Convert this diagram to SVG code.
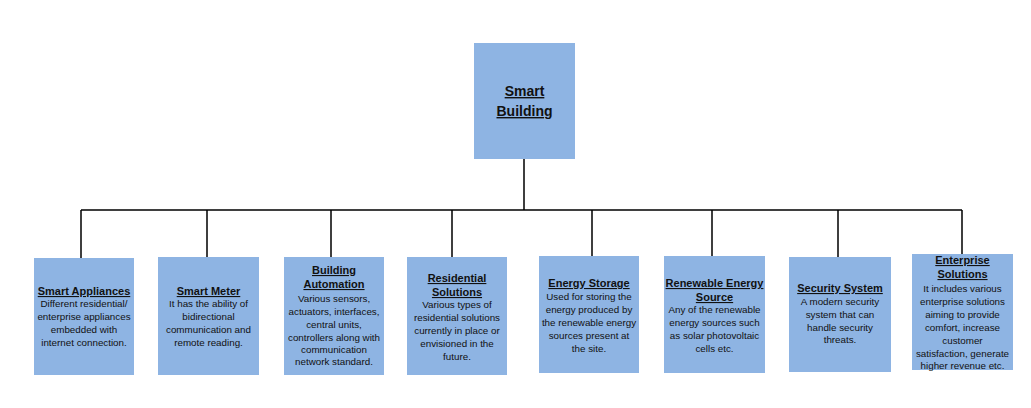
<svg xmlns="http://www.w3.org/2000/svg" width="1031" height="408" viewBox="0 0 1031 408">
<style>
.box{fill:#8EB4E3;stroke:none}
.ln{stroke:#000;stroke-width:1.5;fill:none}
text{font-family:"Liberation Sans",Arial,sans-serif;fill:#111;text-anchor:middle}
.h{font-size:11px;font-weight:bold;text-decoration:underline}
.t{font-size:9.8px}
.top{font-size:14px;font-weight:bold;text-decoration:underline}
</style>
<rect width="1031" height="408" fill="#fff"/>
<g id="connectors">
<path class="ln" d="M524,159V210M81,210H962M81,210V258M207,210V257M331,210V257M452,210V257M592,210V256M712,210V256M838,210V257M962,210V254"/>
</g>
<g id="smart-building">
<rect class="box" x="474" y="43" width="101" height="116"/>
<text class="top" x="524.5" y="96">Smart</text>
<text class="top" x="524.5" y="116">Building</text>
</g>
<g id="smart-appliances">
<rect class="box" x="34" y="258" width="100" height="117"/>
<text class="h" x="84" y="295">Smart Appliances</text>
<text class="t" x="84" y="307">Different residential/</text>
<text class="t" x="84" y="320">enterprise appliances</text>
<text class="t" x="84" y="333">embedded with</text>
<text class="t" x="84" y="346">internet connection.</text>
</g>
<g id="smart-meter">
<rect class="box" x="158" y="257" width="101" height="118"/>
<text class="h" x="208.5" y="295">Smart Meter</text>
<text class="t" x="208.5" y="307">It has the ability of</text>
<text class="t" x="208.5" y="320">bidirectional</text>
<text class="t" x="208.5" y="333">communication and</text>
<text class="t" x="208.5" y="346">remote reading.</text>
</g>
<g id="building-automation">
<rect class="box" x="284" y="257" width="100" height="118"/>
<text class="h" x="334" y="274">Building</text>
<text class="h" x="334" y="288">Automation</text>
<text class="t" x="334" y="302">Various sensors,</text>
<text class="t" x="334" y="315">actuators, interfaces,</text>
<text class="t" x="334" y="328">central units,</text>
<text class="t" x="334" y="341">controllers along with</text>
<text class="t" x="334" y="353">communication</text>
<text class="t" x="334" y="365">network standard.</text>
</g>
<g id="residential-solutions">
<rect class="box" x="407" y="257" width="100" height="118"/>
<text class="h" x="457" y="282">Residential</text>
<text class="h" x="457" y="296">Solutions</text>
<text class="t" x="457" y="308">Various types of</text>
<text class="t" x="457" y="321">residential solutions</text>
<text class="t" x="457" y="334">currently in place or</text>
<text class="t" x="457" y="347">envisioned in the</text>
<text class="t" x="457" y="360">future.</text>
</g>
<g id="energy-storage">
<rect class="box" x="539" y="256" width="100" height="117"/>
<text class="h" x="589" y="287">Energy Storage</text>
<text class="t" x="589" y="300">Used for storing the</text>
<text class="t" x="589" y="313">energy produced by</text>
<text class="t" x="589" y="326">the renewable energy</text>
<text class="t" x="589" y="339">sources present at</text>
<text class="t" x="589" y="352">the site.</text>
</g>
<g id="renewable-energy-source">
<rect class="box" x="664" y="256" width="101" height="117"/>
<text class="h" x="714.5" y="287">Renewable Energy</text>
<text class="h" x="714.5" y="301">Source</text>
<text class="t" x="714.5" y="313">Any of the renewable</text>
<text class="t" x="714.5" y="326">energy sources such</text>
<text class="t" x="714.5" y="339">as solar photovoltaic</text>
<text class="t" x="714.5" y="352">cells etc.</text>
</g>
<g id="security-system">
<rect class="box" x="789" y="257" width="102" height="115"/>
<text class="h" x="840" y="292">Security System</text>
<text class="t" x="840" y="305">A modern security</text>
<text class="t" x="840" y="318">system that can</text>
<text class="t" x="840" y="331">handle security</text>
<text class="t" x="840" y="343">threats.</text>
</g>
<g id="enterprise-solutions">
<rect class="box" x="912" y="254" width="101" height="116"/>
<text class="h" x="962.5" y="264">Enterprise</text>
<text class="h" x="962.5" y="278">Solutions</text>
<text class="t" x="962.5" y="291.5">It includes various</text>
<text class="t" x="962.5" y="304.5">enterprise solutions</text>
<text class="t" x="962.5" y="317.5">aiming to provide</text>
<text class="t" x="962.5" y="330.5">comfort, increase</text>
<text class="t" x="962.5" y="344">customer</text>
<text class="t" x="962.5" y="357">satisfaction, generate</text>
<text class="t" x="962.5" y="368.5">higher revenue etc.</text>
</g>
</svg>
